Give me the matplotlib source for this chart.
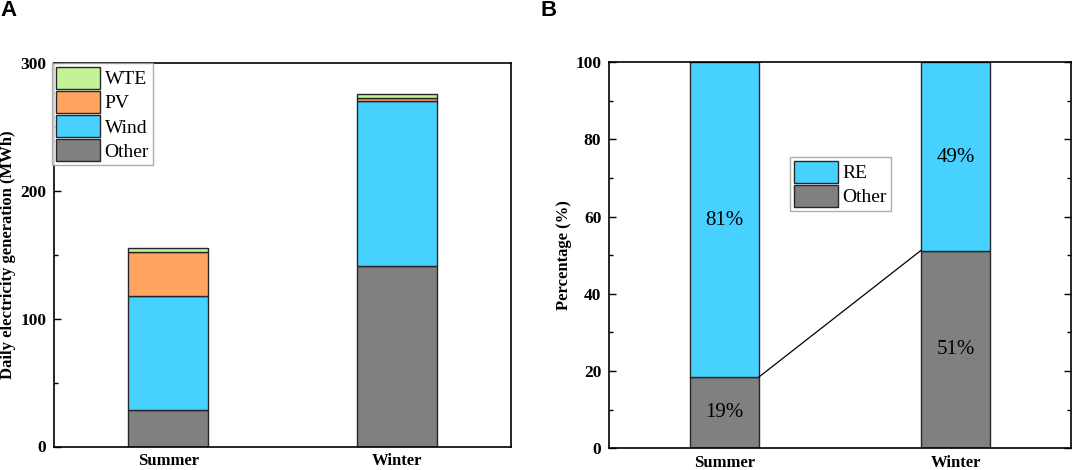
import matplotlib
matplotlib.use("Agg")
import matplotlib.pyplot as plt
from matplotlib.ticker import MultipleLocator
import numpy as np

# ---- data ----
seasons = ["Summer", "Winter"]
other = [28.7, 141.1]
wind = [89.2, 129.4]
pv = [33.9, 1.9]
wte = [3.2, 3.4]

pct_other = [18.5, 51.2]
pct_re = [81.5, 48.8]
pct_other_labels = ["19%", "51%"]
pct_re_labels = ["81%", "49%"]
pct_re_label_y = [59.0, 75.4]

c_other = "#808080"
c_wind = "#47D1FF"
c_pv = "#FFA55F"
c_wte = "#C3F297"
edge = "#262626"

plt.rcParams["font.family"] = ["Liberation Serif", "DejaVu Serif"]

fig = plt.figure(figsize=(10.72, 4.70), dpi=100)
axA = fig.add_axes([54/1072, 1-446.5/470, (511-54)/1072, (446.5-63)/470])
axB = fig.add_axes([609/1072, 1-448.3/470, (1071-609)/1072, (448.3-62)/470])

x = np.arange(len(seasons))
TICK_FS = 12.5
LEG_FS = 14


def style_axis(ax, ylabel, right_ticks):
    ax.set_xlim(-0.5, 1.5)
    ax.set_xticks(x)
    ax.set_xticklabels(seasons, fontweight="bold", fontsize=12)
    ax.tick_params(axis="y", which="both", direction="in", right=right_ticks,
                   labelsize=TICK_FS, pad=5.5)
    ax.tick_params(axis="y", which="major", length=5, width=1)
    ax.tick_params(axis="y", which="minor", length=3, width=1)
    ax.tick_params(axis="x", length=0, pad=5)
    for lab in ax.get_yticklabels():
        lab.set_fontweight("bold")
    ax.set_ylabel(ylabel, fontweight="bold", fontsize=12)
    for s in ax.spines.values():
        s.set_linewidth(1.2)


LEG_KW = dict(fontsize=LEG_FS, frameon=True, fancybox=False, edgecolor="#999999",
              handlelength=2.25, handleheight=1.35, borderpad=0.2, labelspacing=0.12,
              handletextpad=0.25, borderaxespad=0.0)

# ---- panel A ----
w = 0.35
b1 = np.array(other)
b2 = b1 + np.array(wind)
b3 = b2 + np.array(pv)
hO = axA.bar(x, other, w, color=c_other, edgecolor=edge, linewidth=1)
hW = axA.bar(x, wind, w, bottom=b1, color=c_wind, edgecolor=edge, linewidth=1)
hP = axA.bar(x, pv, w, bottom=b2, color=c_pv, edgecolor=edge, linewidth=1)
hT = axA.bar(x, wte, w, bottom=b3, color=c_wte, edgecolor=edge, linewidth=1)
axA.set_ylim(0, 300)
axA.yaxis.set_major_locator(MultipleLocator(100))
axA.yaxis.set_minor_locator(MultipleLocator(50))
style_axis(axA, "Daily electricity generation (MWh)", False)
axA.yaxis.set_label_coords((16.5-54)/457, 0.5)
legA = axA.legend([hT, hP, hW, hO], ["WTE", "PV", "Wind", "Other"], loc="upper left",
                  bbox_to_anchor=(-0.004, 1.0), **LEG_KW)
legA.get_frame().set_linewidth(1)

# ---- panel B ----
wb = 0.30
pO = axB.bar(x, pct_other, wb, color=c_other, edgecolor=edge, linewidth=1)
pR = axB.bar(x, pct_re, wb, bottom=pct_other, color=c_wind, edgecolor=edge, linewidth=1)
axB.plot([x[0] + wb/2, x[1] - wb/2], [pct_other[0], pct_other[1]], color="black", linewidth=0.9)
for i in range(len(x)):
    axB.text(x[i], pct_other[i]/2, pct_other_labels[i], ha="center", va="center", fontsize=15)
    axB.text(x[i], pct_re_label_y[i], pct_re_labels[i], ha="center", va="center", fontsize=15)
axB.set_ylim(0, 100)
axB.yaxis.set_major_locator(MultipleLocator(20))
axB.yaxis.set_minor_locator(MultipleLocator(10))
style_axis(axB, "Percentage (%)", True)
axB.yaxis.set_label_coords((572-609)/462, 0.5)
legB = axB.legend([pR, pO], ["RE", "Other"], loc="upper left",
                  bbox_to_anchor=((790-609)/462, 1-(157-62)/386.3), **LEG_KW)
legB.get_frame().set_linewidth(1)

fig.text(0/1072, 1-0/470, "A", fontsize=16, fontweight="bold",
         family=["Liberation Sans", "DejaVu Sans"], ha="left", va="top")
fig.text(540/1072, 1-0/470, "B", fontsize=16, fontweight="bold",
         family=["Liberation Sans", "DejaVu Sans"], ha="left", va="top")

fig.savefig("out.png", dpi=100)
